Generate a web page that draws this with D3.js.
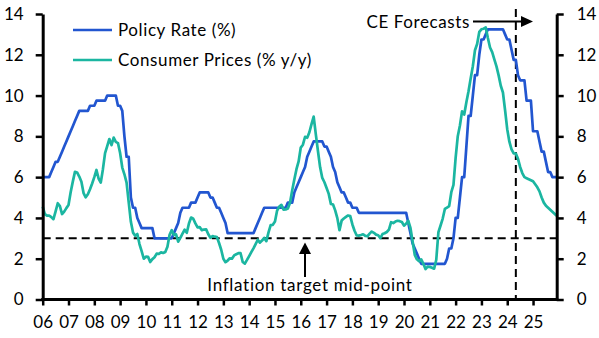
<!DOCTYPE html>
<html><head><meta charset="utf-8">
<script src="https://cdn.jsdelivr.net/npm/d3@7"></script>
<style>
body{margin:0;background:#fff}
svg{display:block}
text{font-family:Lato,"Open Sans",sans-serif;fill:#000}
</style>
</head><body>
<svg id="chart" width="599" height="338"></svg>
<script>
// ---- data (monthly, Jan 2006 .. Dec 2025) ----
const yearLabels = ["06","07","08","09","10","11","12","13","14","15","16","17","18","19","20","21","22","23","24","25"];
const yTicks = [0,2,4,6,8,10,12,14];
const seriesNames = ["Policy Rate (%)","Consumer Prices (% y/y)"];
const policyRate = [
 6.0,6.0,6.0,6.0,6.25,6.5,6.75,6.75,7.0,7.25,7.5,7.75,
 8.0,8.25,8.5,8.75,9.0,9.25,9.25,9.25,9.25,9.25,9.5,9.5,
 9.5,9.75,9.75,9.75,9.75,9.75,10.0,10.0,10.0,10.0,10.0,9.5,
 9.5,9.25,8.0,7.0,7.0,5.0,4.5,4.5,4.0,3.75,3.5,3.5,
 3.5,3.5,3.5,3.5,3.0,3.0,3.0,3.0,3.0,3.0,3.0,3.0,
 3.0,3.25,3.5,3.75,4.25,4.5,4.5,4.5,4.5,4.75,4.75,4.75,
 5.0,5.25,5.25,5.25,5.25,5.25,5.0,5.0,4.75,4.5,4.5,4.25,
 4.0,3.75,3.25,3.25,3.25,3.25,3.25,3.25,3.25,3.25,3.25,3.25,
 3.25,3.25,3.25,3.5,3.75,4.0,4.25,4.5,4.5,4.5,4.5,4.5,
 4.5,4.5,4.5,4.5,4.5,4.5,4.75,4.75,4.75,5.25,5.5,5.75,
 6.0,6.25,6.5,7.0,7.25,7.5,7.75,7.75,7.75,7.75,7.75,7.5,
 7.5,7.25,7.0,6.5,6.25,5.75,5.5,5.25,5.25,5.0,4.75,4.75,
 4.5,4.5,4.5,4.25,4.25,4.25,4.25,4.25,4.25,4.25,4.25,4.25,
 4.25,4.25,4.25,4.25,4.25,4.25,4.25,4.25,4.25,4.25,4.25,4.25,
 4.25,4.25,3.75,3.25,2.75,2.5,2.25,2.0,1.75,1.75,1.75,1.75,
 1.75,1.75,1.75,1.75,1.75,1.75,1.75,1.75,2.0,2.5,2.5,3.0,
 4.0,4.0,5.0,6.0,6.0,7.5,9.0,9.0,10.0,11.0,11.0,12.0,
 12.75,12.75,13.0,13.25,13.25,13.25,13.25,13.25,13.25,13.25,13.25,13.0,
 12.75,12.75,12.25,11.75,11.75,11.0,10.75,10.75,10.75,9.75,9.75,9.75,
 8.25,8.25,8.25,7.75,7.25,7.25,6.75,6.25,6.25,6.0,6.0,6.0
];
const consumerPrices = [
 4.56,4.19,4.11,4.12,4.04,3.94,4.32,4.72,4.58,4.19,4.31,4.48,
 4.63,5.26,5.78,6.26,6.23,6.03,5.77,5.22,5.01,5.16,5.41,5.69,
 6.00,6.35,5.93,5.73,6.39,7.18,7.52,7.87,7.57,7.94,7.73,7.67,
 7.18,6.47,6.14,5.73,4.76,3.81,3.28,3.13,3.21,2.72,2.37,2.00,
 2.10,2.09,1.84,1.98,2.07,2.25,2.24,2.31,2.28,2.33,2.59,3.17,
 3.40,3.17,3.19,2.84,3.02,3.23,3.42,3.27,3.73,4.02,3.96,3.73,
 3.54,3.55,3.40,3.43,3.44,3.20,3.03,3.11,3.08,3.06,2.77,2.44,
 2.00,1.83,1.91,2.02,2.00,2.16,2.22,2.27,2.27,1.84,1.76,1.94,
 2.13,2.32,2.51,2.72,2.93,2.79,2.89,3.02,2.86,3.29,3.65,3.66,
 3.82,4.36,4.56,4.64,4.41,4.42,4.46,4.74,5.35,5.89,6.39,6.77,
 7.45,7.59,7.98,7.93,8.20,8.60,8.97,8.10,7.27,6.48,5.96,5.75,
 5.47,5.18,4.69,4.66,4.37,3.99,3.40,3.87,3.97,4.05,4.12,4.09,
 3.68,3.37,3.14,3.13,3.16,3.20,3.12,3.10,3.23,3.33,3.27,3.18,
 3.15,3.01,3.21,3.25,3.31,3.43,3.79,3.75,3.82,3.86,3.84,3.80,
 3.62,3.72,3.86,3.51,2.85,2.19,1.97,1.88,1.97,1.75,1.49,1.61,
 1.60,1.56,1.51,1.95,3.30,3.63,3.97,4.44,4.51,4.58,5.26,5.62,
 6.94,8.01,8.53,9.23,9.07,9.67,10.21,10.84,11.44,12.22,12.53,13.12,
 13.25,13.28,13.34,12.82,12.36,12.13,11.78,11.43,10.99,10.48,10.15,9.28,
 8.35,7.74,7.36,7.16,7.16,6.9,6.5,6.2,6.0,5.95,5.9,5.85,
 5.8,5.65,5.5,5.3,5.0,4.75,4.6,4.5,4.4,4.3,4.2,4.1
];
const forecastStartMonth = 220;   // vertical dashed line (mid-2024)
const inflationTarget = 3;
const colors = {policy:"#2256d0", cpi:"#1bb6a1"};

// ---- layout ----
const svg = d3.select("#chart");
const x = d3.scaleLinear().domain([0, policyRate.length - 1]).range([42.7, 556.7]);
const y = d3.scaleLinear().domain([0, 14]).range([299.5, 14]);
const FS = 17;

// dashed target line
svg.append("line")
  .attr("x1", x(0)).attr("x2", x(239))
  .attr("y1", y(inflationTarget)).attr("y2", y(inflationTarget))
  .attr("stroke","#000").attr("stroke-width",2).attr("stroke-dasharray","8,5");

// vertical forecast line
svg.append("line")
  .attr("x1", x(forecastStartMonth)).attr("x2", x(forecastStartMonth))
  .attr("y1", 9).attr("y2", y(0))
  .attr("stroke","#000").attr("stroke-width",2).attr("stroke-dasharray","8,5");

// series
const line = d3.line().x((d,i)=>x(i)).y(d=>y(d));
svg.append("path").datum(policyRate).attr("d", line)
  .attr("fill","none").attr("stroke",colors.policy).attr("stroke-width",2.7).attr("stroke-linejoin","round");
svg.append("path").datum(consumerPrices).attr("d", line)
  .attr("fill","none").attr("stroke",colors.cpi).attr("stroke-width",2.7).attr("stroke-linejoin","round");

// axes
const gL = svg.append("g").attr("transform",`translate(${x(0)},0)`)
  .call(d3.axisLeft(y).tickValues(yTicks).tickSize(7).tickSizeOuter(0).tickPadding(12));
const gR = svg.append("g").attr("transform",`translate(${x(239)},0)`)
  .call(d3.axisRight(y).tickValues(yTicks).tickSize(7).tickSizeOuter(0).tickPadding(13));
const gB = svg.append("g").attr("transform",`translate(0,${y(0)})`)
  .call(d3.axisBottom(x).tickValues(yearLabels.map((d,i)=>i*12))
    .tickFormat((d,i)=>yearLabels[i]).tickSize(6).tickSizeOuter(0).tickPadding(10));
[gL,gR,gB].forEach(g=>{
  g.selectAll(".domain").attr("stroke","#000").attr("stroke-width",3);
  g.selectAll(".tick line").attr("stroke","#000").attr("stroke-width",2.5);
  g.selectAll("text").attr("font-size",FS).attr("font-family","Lato, 'Open Sans', sans-serif").attr("fill","#000");
});
gB.select(".domain").attr("d",`M${x(0)-1.5},0H${x(239)+1.5}`);

// legend
const legend = svg.append("g");
[[seriesNames[0],colors.policy,30],[seriesNames[1],colors.cpi,60]].forEach(([name,c,yy])=>{
  legend.append("line").attr("x1",73).attr("x2",112).attr("y1",yy).attr("y2",yy)
    .attr("stroke",c).attr("stroke-width",2.7);
  legend.append("text").attr("x",118).attr("y",yy+6).attr("font-size",FS).attr("letter-spacing",0.6).text(name);
});

// CE forecasts annotation
const ay = 21.5;
svg.append("text").attr("x",470).attr("y",ay+6.5).attr("text-anchor","end").attr("font-size",FS).attr("letter-spacing",0.6).text("CE Forecasts");
svg.append("line").attr("x1",473).attr("x2",523).attr("y1",ay).attr("y2",ay).attr("stroke","#000").attr("stroke-width",2);
svg.append("path").attr("d",`M521,${ay-5.5}L533,${ay}L521,${ay+5.5}Z`).attr("fill","#000");

// inflation target annotation
const ax = 305;
svg.append("line").attr("x1",ax).attr("x2",ax).attr("y1",277).attr("y2",252).attr("stroke","#000").attr("stroke-width",2);
svg.append("path").attr("d",`M${ax-6},254L${ax},242.5L${ax+6},254Z`).attr("fill","#000");
svg.append("text").attr("x",310).attr("y",291).attr("text-anchor","middle").attr("font-size",FS).attr("letter-spacing",0.7).text("Inflation target mid-point");
</script>
</body></html>
